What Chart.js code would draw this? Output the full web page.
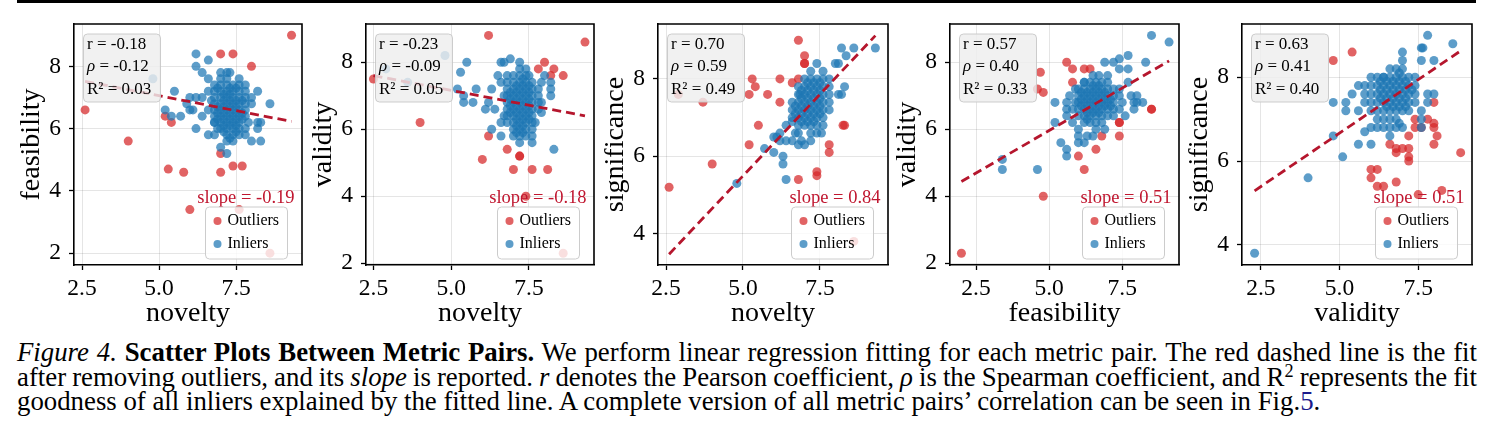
<!DOCTYPE html>
<html>
<head>
<meta charset="utf-8">
<script src="https://cdn.jsdelivr.net/npm/chart.js@4.4.0/dist/chart.umd.min.js"></script>
<style>
  body { margin: 0; background: #fff; width: 1493px; height: 444px; overflow: hidden; position: relative;
         font-family: "Liberation Serif", "Times New Roman", serif; }
  #rule { position: absolute; left: 17px; top: 0; width: 1459px; height: 3px; background: #000; }
  canvas.panel { position: absolute; top: 0; }
  #caption { position: absolute; left: 17px; top: 340px; width: 1460px; font-size: 26.8px; line-height: 24.5px; color: #000; }
  #caption .ln { text-align: justify; text-align-last: justify; word-spacing: -3px; }
  #caption .ln.last { text-align-last: left; word-spacing: 0; }
  #caption sup { font-size: 0.68em; line-height: 0; vertical-align: 0.5em; }
  #caption .ref { color: #1b1b8c; }
</style>
</head>
<body>
<div id="rule"></div>
<div id="caption">
  <div class="ln"><i>Figure 4.</i> <b>Scatter Plots Between Metric Pairs.</b> We perform linear regression fitting for each metric pair. The red dashed line is the fit</div>
  <div class="ln">after removing outliers, and its <i>slope</i> is reported. <i>r</i> denotes the Pearson coefficient, <i>ρ</i> is the Spearman coefficient, and R<sup>2</sup> represents the fit</div>
  <div class="ln last">goodness of all inliers explained by the fitted line. A complete version of all metric pairs’ correlation can be seen in Fig.<span class="ref">5</span>.</div>
</div>
<script>
// ---- data ----
const xTicks = [2.5, 5.0, 7.5];
const yTicksLow = [2, 4, 6, 8];
const yTicksHigh = [4, 6, 8];

const xNames = ['novelty', 'novelty', 'novelty', 'feasibility', 'validity'];
const yNames = ['feasibility', 'validity', 'significance', 'validity', 'significance'];

const pearson = ['-0.18', '-0.23', '0.70', '0.57', '0.63'];
const spearman = ['-0.12', '-0.09', '0.59', '0.40', '0.41'];
const rSquared = ['0.03', '0.05', '0.49', '0.33', '0.40'];
const slopes = ['-0.19', '-0.18', '0.84', '0.51', '0.51'];

// fitted line end points (x, y) per panel
const fitX = [[2.6, 9.3], [2.5, 9.3], [2.6, 9.3], [2.0, 9.1], [2.3, 8.85]];
const fitY = [[7.52, 6.23], [7.6, 6.4], [3.47, 9.12], [4.44, 8.04], [5.29, 8.63]];

// novelty vs feasibility
const novFeaOut = [[9.3,9.0],[7.0,8.4],[7.4,8.4],[8.0,8.0],[2.6,6.6],[4.0,5.6],[5.2,6.4],[5.4,6.2],[5.3,4.7],
  [5.8,4.6],[7.0,5.2],[7.0,4.6],[7.4,4.8],[7.7,4.8],[6.0,3.4],[7.6,3.4],[8.6,2.0]];
const novFeaIn = [[4.8,7.6],[5.5,7.2],[5.2,6.6],[5.4,6.4],[5.7,6.4],[6.2,8.4],[6.6,8.2],[6.2,8.0],[6.4,7.8],
  [6.2,7.0],[6.0,7.0],[6.4,7.0],[6.1,6.6],[6.4,6.4],[6.6,6.6],[6.2,6.0],[6.6,5.8],[6.8,5.8],[7.0,5.4],[7.2,5.2],
  [7.2,5.8],[8.0,5.6],[8.3,5.6],[8.2,6.2],[8.3,6.2],[8.2,6.0],[8.6,6.8],[8.2,7.2],[8.0,6.8],[8.0,7.0],[7.8,7.4],
  [7.0,7.8],[7.2,7.8],[7.3,7.8],[6.6,7.6],[7.6,7.6],[6.6,7.2],[5.9,6.8],[6.0,6.6],[6.8,6.2],[7.8,6.0],[7.8,5.8],
  [7.9,6.2],[6.9,6.0],
  [6.8,6.2],[6.8,6.4],[6.8,6.6],[6.8,6.8],[6.8,7.0],[6.8,7.2],[6.8,7.4],
  [7.0,6.0],[7.0,6.2],[7.0,6.4],[7.0,6.6],[7.0,6.8],[7.0,7.0],[7.0,7.2],[7.0,7.4],[7.0,7.6],
  [7.2,5.6],[7.2,6.0],[7.2,6.2],[7.2,6.4],[7.2,6.6],[7.2,6.8],[7.2,7.0],[7.2,7.2],[7.2,7.4],[7.2,7.6],
  [7.4,5.6],[7.4,5.8],[7.4,6.0],[7.4,6.2],[7.4,6.4],[7.4,6.6],[7.4,6.8],[7.4,7.0],[7.4,7.2],[7.4,7.4],
  [7.6,5.8],[7.6,6.0],[7.6,6.2],[7.6,6.4],[7.6,6.6],[7.6,6.8],[7.6,7.0],[7.6,7.2],[7.6,7.4],
  [7.8,6.4],[7.8,6.6],[7.8,6.8],[7.8,7.0],[7.8,7.2],
  [7.1,6.5],[7.3,6.3],[7.3,6.9],[7.1,7.1],[7.5,6.1],[6.9,6.7],[7.5,7.3],[6.7,6.9],[7.7,6.5],[7.1,5.9],
  [7.1,6.1],[7.1,6.3],[7.1,6.7],[7.1,6.9],[7.3,6.1],[7.3,6.5],[7.3,6.7],[7.3,7.1],[7.3,7.3],[7.5,6.3],
  [7.5,6.5],[7.5,6.7],[7.5,6.9],[6.9,6.3],[6.9,6.5],[7.3,5.7],[7.5,5.9],[6.9,7.3],[7.7,6.9],[7.7,6.3]];

// novelty vs validity
const novValOut = [[2.5,7.5],[4.0,6.2],[6.2,8.8],[9.3,8.6],[8.0,8.0],[7.8,7.8],[8.3,7.8],[8.6,7.6],[8.2,7.6],
  [6.2,5.8],[6.8,5.4],[6.0,5.1],[7.2,5.2],[7.2,5.2],[7.0,4.8],[7.6,4.8],[8.1,4.8],[7.4,4.0],[8.6,2.3]];
const novValIn = [[2.9,7.8],[3.6,7.4],[4.8,8.2],[5.5,8.0],[5.3,7.7],[5.2,7.2],[5.4,7.0],[5.4,6.8],[5.7,6.8],
  [5.8,7.2],[6.1,6.6],[6.3,7.2],[6.2,6.8],[6.4,6.6],[6.3,6.0],[6.6,5.8],[6.6,8.0],[6.7,8.0],[6.9,8.1],[7.2,8.0],
  [7.4,7.8],[7.2,7.8],[7.5,7.6],[8.0,7.6],[8.2,7.4],[8.2,7.2],[8.2,7.0],[7.9,6.8],[7.9,6.5],[7.7,6.2],[6.7,6.4],
  [6.6,6.2],[7.0,5.8],[7.2,5.6],[7.6,5.8],[7.6,5.6],[8.3,5.4],[6.5,7.6],[6.6,7.4],[7.8,7.2],[7.9,7.4],[7.0,7.6],
  [6.8,7.6],
  [6.8,6.2],[6.8,6.4],[6.8,6.6],[6.8,6.8],[6.8,7.0],[6.8,7.2],[6.8,7.4],
  [7.0,6.0],[7.0,6.2],[7.0,6.4],[7.0,6.6],[7.0,6.8],[7.0,7.0],[7.0,7.2],[7.0,7.4],
  [7.2,5.8],[7.2,6.0],[7.2,6.2],[7.2,6.4],[7.2,6.6],[7.2,6.8],[7.2,7.0],[7.2,7.2],[7.2,7.4],[7.2,7.6],
  [7.4,5.8],[7.4,6.0],[7.4,6.2],[7.4,6.4],[7.4,6.6],[7.4,6.8],[7.4,7.0],[7.4,7.2],[7.4,7.4],[7.4,7.6],
  [7.6,6.0],[7.6,6.2],[7.6,6.4],[7.6,6.6],[7.6,6.8],[7.6,7.0],[7.6,7.2],[7.6,7.4],
  [7.8,6.6],[7.8,6.8],[7.8,7.0],
  [7.1,6.3],[7.3,6.7],[7.5,6.5],[6.9,6.9],[7.3,5.9],[7.1,7.1],[6.7,7.0],[7.5,7.1],
  [7.1,6.1],[7.1,6.5],[7.1,6.7],[7.1,6.9],[7.3,6.1],[7.3,6.3],[7.3,6.5],[7.3,6.9],[7.3,7.1],[7.3,7.3],
  [7.5,6.3],[7.5,6.7],[7.5,6.9],[6.9,6.5],[6.9,6.7],[6.9,7.1],[7.1,7.3],[7.5,7.3],[7.3,7.5],[7.1,5.9]];

// novelty vs significance
const novSigOut = [[2.6,5.2],[4.0,5.8],[3.7,7.4],[2.9,7.6],[5.2,6.3],[5.3,8.0],[5.4,7.8],[5.2,7.6],[5.5,6.8],
  [5.8,7.6],[6.2,8.0],[6.2,7.4],[6.8,9.0],[7.0,8.6],[7.0,8.4],[7.0,8.4],[6.6,7.9],[6.8,8.0],[6.8,5.4],[7.4,5.6],
  [7.4,5.5],[7.8,6.3],[7.8,6.1],[8.25,6.8],[8.3,6.8],[8.6,3.8]];
const novSigIn = [[4.8,5.3],[5.7,6.2],[6.0,6.1],[6.3,6.0],[6.3,5.8],[6.4,5.4],[6.1,6.5],[6.2,6.6],[6.0,6.5],
  [6.2,6.4],[6.4,6.4],[6.6,6.4],[6.7,6.6],[8.2,8.8],[8.6,8.8],[9.3,8.8],[8.35,8.6],[8.0,8.4],[8.1,8.4],[7.4,8.4],
  [7.2,8.2],[7.6,8.2],[8.2,7.6],[8.1,7.6],[7.8,7.6],[8.3,7.8],[7.8,7.2],[7.8,7.4],[7.55,6.6],[7.2,6.4],[7.0,6.3],
  [6.6,7.4],[6.6,7.2],[6.6,6.9],[6.85,7.6],[6.6,7.0],[6.4,6.8],[6.8,6.3],[6.9,6.4],[7.6,6.8],[7.6,7.0],[7.4,6.6],
  [6.8,6.6],
  [6.8,6.8],[6.8,7.0],[6.8,7.2],[6.8,7.4],[6.8,7.6],[6.8,7.8],
  [7.0,6.8],[7.0,7.0],[7.0,7.2],[7.0,7.4],[7.0,7.6],[7.0,7.8],[7.0,8.0],
  [7.2,6.6],[7.2,6.8],[7.2,7.0],[7.2,7.2],[7.2,7.4],[7.2,7.6],[7.2,7.8],[7.2,8.0],
  [7.4,6.8],[7.4,7.0],[7.4,7.2],[7.4,7.4],[7.4,7.6],[7.4,7.8],[7.4,8.0],
  [7.6,7.2],[7.6,7.4],[7.6,7.6],[7.6,7.8],[7.6,8.0],
  [7.8,7.8],[7.8,8.0],
  [7.1,7.5],[7.3,7.3],[7.5,7.7],[6.9,7.1],[7.3,7.9],[7.1,6.9],
  [6.9,7.3],[6.9,7.5],[6.9,7.7],[7.1,7.1],[7.1,7.3],[7.1,7.7],[7.1,7.9],[7.3,7.1],[7.3,7.5],[7.3,7.7],
  [7.5,7.3],[7.5,7.5],[7.5,7.9],[7.3,6.9],[6.7,7.3],[6.7,7.1],[7.5,7.1],[6.9,6.9]];

// feasibility vs validity
const feaValOut = [[2.0,2.3],[4.8,4.0],[4.7,7.7],[4.6,7.2],[4.8,7.1],[5.6,8.0],[5.8,7.8],[5.8,7.4],[6.2,7.8],
  [6.4,7.8],[6.0,5.2],[6.2,4.8],[6.6,5.4],[6.8,5.8],[7.4,6.2],[7.4,6.2],[7.4,5.8],[8.5,6.6],[8.5,6.6]];
const feaValIn = [[3.4,5.1],[3.4,4.8],[4.6,4.8],[5.2,6.8],[5.2,6.2],[5.4,5.6],[5.6,5.4],[5.6,5.2],[8.5,8.8],
  [9.1,8.6],[8.3,8.0],[7.7,8.2],[7.4,8.1],[6.9,8.0],[7.2,8.0],[7.7,7.8],[7.4,7.8],[6.5,7.6],[6.7,7.6],[7.0,7.6],
  [7.7,7.4],[6.2,7.4],[5.9,7.2],[5.7,7.0],[5.6,6.8],[5.6,6.6],[5.6,6.4],[7.8,7.0],[8.0,7.0],[7.9,6.8],[7.9,6.6],
  [8.2,6.8],[8.0,6.8],[7.5,6.8],[6.0,6.0],[6.0,5.8],[6.0,5.6],[6.2,5.6],[6.3,5.8],[6.5,5.8],[6.6,6.0],[6.9,6.0],
  [6.8,6.2],[5.8,6.2],[5.8,6.6],[7.6,6.4],
  [6.0,6.4],[6.0,6.6],[6.0,6.8],[6.0,7.0],[6.0,7.2],
  [6.2,6.2],[6.2,6.4],[6.2,6.6],[6.2,6.8],[6.2,7.0],[6.2,7.2],[6.2,7.4],
  [6.4,6.2],[6.4,6.4],[6.4,6.6],[6.4,6.8],[6.4,7.0],[6.4,7.2],[6.4,7.4],
  [6.6,6.2],[6.6,6.4],[6.6,6.6],[6.6,6.8],[6.6,7.0],[6.6,7.2],[6.6,7.4],
  [6.8,6.4],[6.8,6.6],[6.8,6.8],[6.8,7.0],[6.8,7.2],[6.8,7.4],
  [7.0,6.4],[7.0,6.6],[7.0,6.8],[7.0,7.0],[7.0,7.2],[7.0,7.4],
  [7.2,6.4],[7.2,6.6],[7.2,6.8],[7.2,7.0],[7.2,7.2],
  [7.4,6.6],[7.4,7.0],[7.4,7.2],
  [6.3,6.9],[6.5,6.5],[6.7,7.1],[6.1,6.7],[6.9,6.7],[6.5,7.3],
  [6.3,6.5],[6.3,6.7],[6.3,7.1],[6.5,6.7],[6.5,6.9],[6.5,7.1],[6.7,6.5],[6.7,6.7],[6.7,6.9],[6.9,6.9],
  [6.9,7.1],[6.1,6.9],[6.1,7.1],[6.7,7.3],[7.1,6.7],[7.1,6.9],[6.3,6.3],[5.9,6.8]];

// validity vs significance
const valSigOut = [[4.8,8.4],[5.4,8.6],[8.0,7.4],[7.4,7.0],[7.8,7.0],[8.0,6.9],[7.4,6.8],[7.6,6.8],[8.0,6.8],
  [8.1,6.6],[8.0,6.4],[7.2,6.6],[6.6,6.4],[6.8,6.2],[6.8,6.3],[7.0,6.3],[7.2,6.3],[7.2,6.1],[7.2,6.0],[8.85,6.2],
  [6.0,5.8],[6.2,5.8],[6.0,5.6],[6.2,5.4],[6.4,5.4],[6.8,5.5],[7.5,5.2],[8.25,5.3]];
const valSigIn = [[2.3,3.8],[4.0,5.6],[5.1,6.1],[4.8,6.6],[4.8,7.4],[5.2,7.4],[5.2,7.2],[5.4,7.6],[5.6,7.8],
  [5.6,6.4],[5.8,6.7],[6.0,6.4],[7.8,9.0],[7.6,8.7],[7.65,8.7],[8.6,8.8],[7.0,8.6],[7.0,8.4],[8.0,8.4],[7.6,8.4],
  [6.6,8.2],[6.4,8.0],[6.0,8.0],[5.8,7.8],[5.8,7.6],[5.6,7.2],[5.8,7.4],[6.0,6.8],[6.2,6.8],[6.6,6.6],[7.8,7.6],
  [7.8,7.4],[8.0,7.6],[7.6,7.2],[7.6,7.0],[7.6,6.8],[6.4,6.8],[6.8,6.8],[7.0,6.8],[6.6,6.8],
  [6.0,7.2],[6.0,7.4],[6.0,7.6],[6.0,7.8],
  [6.2,7.0],[6.2,7.2],[6.2,7.4],[6.2,7.6],[6.2,7.8],[6.2,8.0],
  [6.4,7.0],[6.4,7.2],[6.4,7.4],[6.4,7.6],[6.4,7.8],[6.4,8.0],
  [6.6,7.0],[6.6,7.2],[6.6,7.4],[6.6,7.6],[6.6,7.8],[6.6,8.0],
  [6.8,7.0],[6.8,7.2],[6.8,7.4],[6.8,7.6],[6.8,7.8],[6.8,8.0],[6.8,8.2],
  [7.0,7.2],[7.0,7.4],[7.0,7.6],[7.0,7.8],[7.0,8.0],[7.0,8.2],
  [7.2,7.2],[7.2,7.4],[7.2,7.6],[7.2,7.8],[7.2,8.0],
  [7.4,7.4],[7.4,7.6],[7.4,7.8],[7.4,8.0],
  [6.5,7.5],[6.7,7.7],[6.9,7.3],[6.3,7.9],[7.1,7.7],[6.9,6.9],
  [6.5,7.7],[6.5,7.9],[6.7,7.5],[6.7,7.9],[6.9,7.5],[6.9,7.7],[6.9,7.9],[6.7,7.3],[6.5,7.3],[7.1,7.5],
  [7.1,7.9],[6.3,7.5],[6.3,7.7],[7.3,7.7],[7.1,7.3],[6.9,8.1]];

const outlierSets = [novFeaOut, novValOut, novSigOut, feaValOut, valSigOut];
const inlierSets = [novFeaIn, novValIn, novSigIn, feaValIn, valSigIn];

// ---- layout (page pixels of each plot box, axis ranges) ----
const PLOT_TOP = 24, PLOT_BOTTOM = 265, CANVAS_H = 330, Y_AXIS_W = 72, PAD_R = 6;
const panels = [
  { left: 74,   right: 302,  xMin: 2.24, xMax: 9.64, yMin: 1.62, yMax: 9.36, yTicks: yTicksLow },
  { left: 366,  right: 594,  xMin: 2.26, xMax: 9.59, yMin: 1.95, yMax: 9.14, yTicks: yTicksLow },
  { left: 658,  right: 888,  xMin: 2.24, xMax: 9.71, yMin: 3.19, yMax: 9.42, yTicks: yTicksHigh },
  { left: 950,  right: 1179, xMin: 1.61, xMax: 9.44, yMin: 1.95, yMax: 9.14, yTicks: yTicksLow },
  { left: 1242, right: 1472, xMin: 1.90, xMax: 9.21, yMin: 3.52, yMax: 9.27, yTicks: yTicksHigh }
];

const FONT = '"Liberation Serif", "Times New Roman", serif';
const RED = 'rgba(214, 39, 40, 0.72)';
const BLUE = 'rgba(31, 119, 180, 0.72)';
const FIT = '#b5162d';

Chart.defaults.font.family = FONT;
Chart.defaults.color = '#000';

function roundRect(ctx, x, y, w, h, r) {
  ctx.beginPath();
  ctx.moveTo(x + r, y);
  ctx.arcTo(x + w, y, x + w, y + h, r);
  ctx.arcTo(x + w, y + h, x, y + h, r);
  ctx.arcTo(x, y + h, x, y, r);
  ctx.arcTo(x, y, x + w, y, r);
  ctx.closePath();
}

// stats box, slope text, legend and the top/right spines
const decor = {
  id: 'decor',
  afterDatasetsDraw(chart, args, opts) {
    const { ctx, chartArea: a } = chart;
    const i = opts.index;
    ctx.save();

    // stats box
    roundRect(ctx, a.left + 9.5, 34, 77, 68, 4);
    ctx.fillStyle = 'rgba(238, 238, 238, 0.82)';
    ctx.fill();
    ctx.strokeStyle = 'rgba(200, 200, 200, 0.9)';
    ctx.lineWidth = 1;
    ctx.stroke();

    const tx = a.left + 13;
    ctx.fillStyle = '#000';
    ctx.textBaseline = 'middle';
    ctx.textAlign = 'left';
    ctx.font = '17px ' + FONT;
    ctx.fillText('r = ' + pearson[i], tx, 45);
    ctx.font = 'italic 17px ' + FONT;
    ctx.fillText('ρ', tx, 67);
    const rw = ctx.measureText('ρ').width;
    ctx.font = '17px ' + FONT;
    ctx.fillText(' = ' + spearman[i], tx + rw, 67);
    ctx.fillText('R² = ' + rSquared[i], tx, 90);

    // slope
    ctx.fillStyle = '#c0162f';
    ctx.font = '18.5px ' + FONT;
    ctx.textAlign = 'right';
    ctx.fillText('slope = ' + slopes[i], a.right - 7.5, 198);

    // legend
    const lx = a.right - 96.5, ly = 207;
    roundRect(ctx, lx, ly, 82, 52, 4);
    ctx.fillStyle = 'rgba(255, 255, 255, 0.8)';
    ctx.fill();
    ctx.strokeStyle = 'rgba(204, 204, 204, 1)';
    ctx.stroke();
    const items = [['Outliers', RED, 221], ['Inliers', BLUE, 244]];
    ctx.textAlign = 'left';
    ctx.font = '16px ' + FONT;
    items.forEach(([label, color, y]) => {
      ctx.beginPath();
      ctx.arc(lx + 12, y, 4, 0, Math.PI * 2);
      ctx.fillStyle = color;
      ctx.fill();
      ctx.fillStyle = '#000';
      ctx.fillText(label, lx + 22, y);
    });

    // top and right spines
    ctx.strokeStyle = '#000';
    ctx.lineWidth = 1.6;
    ctx.beginPath();
    ctx.moveTo(a.left, a.top);
    ctx.lineTo(a.right, a.top);
    ctx.lineTo(a.right, a.bottom);
    ctx.stroke();
    ctx.restore();
  }
};

function makePanel(i) {
  const p = panels[i];
  const canvas = document.createElement('canvas');
  canvas.className = 'panel';
  const w = p.right - p.left + Y_AXIS_W + PAD_R;
  canvas.width = w;
  canvas.height = CANVAS_H;
  canvas.style.left = (p.left - Y_AXIS_W) + 'px';
  canvas.style.width = w + 'px';
  canvas.style.height = CANVAS_H + 'px';
  document.body.appendChild(canvas);

  const toPts = arr => arr.map(([x, y]) => ({ x, y }));

  new Chart(canvas, {
    type: 'scatter',
    data: {
      datasets: [
        {
          label: 'fit',
          data: [{ x: fitX[i][0], y: fitY[i][0] }, { x: fitX[i][1], y: fitY[i][1] }],
          showLine: true,
          borderColor: FIT,
          borderWidth: 2.8,
          borderDash: [9, 5],
          pointRadius: 0
        },
        {
          label: 'Inliers',
          data: toPts(inlierSets[i]),
          backgroundColor: BLUE,
          borderWidth: 0,
          pointRadius: 4.5
        },
        {
          label: 'Outliers',
          data: toPts(outlierSets[i]),
          backgroundColor: RED,
          borderWidth: 0,
          pointRadius: 4.5
        }
      ]
    },
    options: {
      responsive: false,
      animation: false,
      events: [],
      layout: { padding: { top: PLOT_TOP, right: PAD_R, left: 0, bottom: 0 } },
      plugins: {
        legend: { display: false },
        tooltip: { enabled: false },
        decor: { index: i }
      },
      scales: {
        x: {
          type: 'linear',
          min: p.xMin,
          max: p.xMax,
          afterBuildTicks: s => { s.ticks = xTicks.map(v => ({ value: v })); },
          afterFit: s => { s.height = CANVAS_H - PLOT_BOTTOM; },
          ticks: { font: { size: 23.5 }, color: '#000', padding: 5, callback: v => v.toFixed(1), maxRotation: 0 },
          grid: { color: 'rgba(0,0,0,0.1)', lineWidth: 1, tickColor: '#000', tickLength: 5, tickWidth: 1.3 },
          border: { color: '#000', width: 1.6 },
          title: { display: true, text: xNames[i], font: { size: 28 }, color: '#000', padding: { top: 0, bottom: 0 } }
        },
        y: {
          type: 'linear',
          min: p.yMin,
          max: p.yMax,
          afterBuildTicks: s => { s.ticks = p.yTicks.map(v => ({ value: v })); },
          afterFit: s => { s.width = Y_AXIS_W; },
          ticks: { font: { size: 23.5 }, color: '#000', padding: 8, callback: v => String(v) },
          grid: { color: 'rgba(0,0,0,0.1)', lineWidth: 1, tickColor: '#000', tickLength: 5, tickWidth: 1.3 },
          border: { color: '#000', width: 1.6 },
          title: { display: true, text: yNames[i], font: { size: 28 }, color: '#000', padding: { top: 13, bottom: 0 } }
        }
      }
    },
    plugins: [decor]
  });
}

panels.forEach((p, i) => makePanel(i));
</script>
</body>
</html>
